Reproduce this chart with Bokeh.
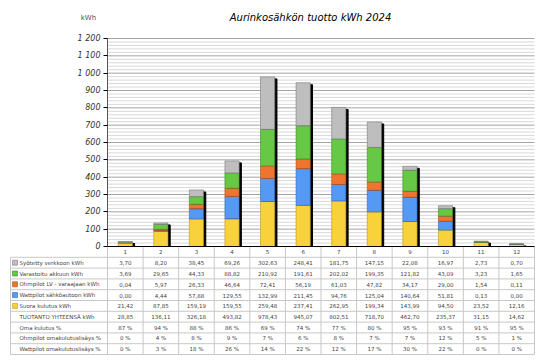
from bokeh.plotting import figure
from bokeh.models import ColumnDataSource, Range1d, FixedTicker, LinearAxis
from bokeh.core.properties import value
from bokeh.embed import file_html
from bokeh.resources import INLINE

months = list(range(1, 13))
month_labels = [str(m) for m in months]

syotetty = [3.70, 8.20, 38.45, 69.26, 302.63, 248.41, 181.75, 147.15, 22.08, 16.97, 2.73, 0.70]
varastoitu = [3.69, 29.65, 44.33, 88.82, 210.92, 191.61, 202.02, 199.35, 121.82, 43.09, 3.23, 1.65]
ohmpilot = [0.04, 5.97, 26.33, 46.64, 72.41, 56.19, 61.03, 47.82, 34.17, 29.00, 1.54, 0.11]
wattpilot = [0.00, 4.44, 57.88, 129.55, 132.99, 211.45, 94.76, 125.04, 140.64, 51.81, 0.13, 0.00]
suora = [21.42, 87.85, 159.19, 159.55, 259.48, 237.41, 262.95, 199.34, 143.99, 94.50, 23.52, 12.16]
tuotanto = [28.85, 136.11, 326.18, 493.82, 978.43, 945.07, 802.51, 718.70, 462.70, 235.37, 31.15, 14.62]
oma_kulutus = [87, 94, 88, 86, 69, 74, 77, 80, 95, 93, 91, 95]
ohmpilot_lisays = [0, 4, 8, 9, 7, 6, 8, 7, 7, 12, 5, 1]
wattpilot_lisays = [0, 3, 18, 26, 14, 22, 12, 17, 30, 22, 0, 0]

row_labels = ["Syötetty verkkoon kWh", "Varastoitu akkuun kWh", "Ohmpilot LV - varaajaan kWh",
              "Wattpilot sähköautoon kWh", "Suora kulutus kWh", "TUOTANTO YHTEENSÄ kWh",
              "Oma kulutus %", "Ohmpilot omakulutuslisäys %", "Wattpilot omakulutuslisäys %"]

y_ticks = [0, 100, 200, 300, 400, 500, 600, 700, 800, 900, 1000, 1100, 1200]
y_tick_labels = ["0", "100", "200", "300", "400", "500", "600", "700", "800", "900", "1 000", "1 100", "1 200"]
y_minor = [v for v in range(0, 1201, 20) if v % 100 != 0]

title_text = "Aurinkosähkön tuotto kWh 2024"
unit_text = "kWh"

C_GRAY, C_GREEN, C_ORANGE, C_BLUE, C_YELLOW = "#BEBEBE", "#66C844", "#EE7430", "#5599F5", "#F7D23C"
L_GRAY, L_GREEN, L_ORANGE, L_BLUE, L_YELLOW = "#7A7A7A", "#3E8A28", "#A8501E", "#2F63B0", "#B8951C"

FONT = "DejaVu Sans"

# ---- geometry: pixels -> data units ----
W, H = 542, 358
PX_X = 1 / 35.583            # x units per pixel
PX_Y = 1200 / 208.0          # y units per pixel
X0 = 0.5 - 107 * PX_X
X1 = 0.5 + (W - 107) * PX_X
Y1 = 1200 + 38 * PX_Y
Y0 = -(H - 246) * PX_Y
X_LEFT = 0.5 - 97 * PX_X     # left edge of the table
ROW_H = 10.8 * PX_Y
N_ROWS = len(row_labels)

p = figure(width=W, height=H, x_range=Range1d(X0, X1), y_range=Range1d(Y0, Y1),
           output_backend="svg", toolbar_location=None,
           x_axis_location=None, y_axis_location=None,
           min_border_left=0, min_border_right=0, min_border_top=0, min_border_bottom=0)
p.grid.grid_line_color = None
p.outline_line_color = None

# chart gridlines
p.segment(x0=[0.5] * len(y_minor), x1=[12.5] * len(y_minor), y0=y_minor, y1=y_minor,
          line_color="#D8D8D8", line_width=1)
p.segment(x0=[0.5] * len(y_ticks), x1=[12.5] * len(y_ticks), y0=y_ticks, y1=y_ticks,
          line_color="#A4A4A4", line_width=1)

yaxis = LinearAxis(fixed_location=0.5, bounds=(0, 1200),
                   ticker=FixedTicker(ticks=y_ticks, minor_ticks=[]))
yaxis.major_label_overrides = {t: l for t, l in zip(y_ticks, y_tick_labels)}
yaxis.major_label_text_font = FONT
yaxis.major_label_text_font_style = "italic"
yaxis.major_label_text_font_size = "8px"
yaxis.major_label_text_color = "#333333"
yaxis.axis_line_color = "#555555"
yaxis.major_tick_line_color = "#000000"
yaxis.major_tick_in = 0
yaxis.major_tick_out = 4
yaxis.minor_tick_out = 0
yaxis.minor_tick_in = 0
yaxis.major_label_standoff = 3
p.add_layout(yaxis, "left")

src = ColumnDataSource(dict(
    x=months, suora=suora, wattpilot=wattpilot, ohmpilot=ohmpilot,
    varastoitu=varastoitu, syotetty=syotetty,
    xs=[m + 2.2 * PX_X for m in months],
    shadow_top=[max(t - 2 * PX_Y, 0) for t in tuotanto],
))

p.vbar(x="xs", top="shadow_top", bottom=0, width=0.40, source=src,
       fill_color="#000000", line_color="#000000")
p.vbar_stack(["suora", "wattpilot", "ohmpilot", "varastoitu", "syotetty"], x="x", width=0.40,
             source=src,
             fill_color=[C_YELLOW, C_BLUE, C_ORANGE, C_GREEN, C_GRAY],
             line_color=[L_YELLOW, L_BLUE, L_ORANGE, L_GREEN, L_GRAY], line_width=0.6)

# title and unit
p.text(x=[0.5 + 203 * PX_X], y=[1200 + 21 * PX_Y], text=[title_text],
       text_font=value(FONT), text_font_style="italic", text_font_size="10px",
       text_color="#000000", text_align="center", text_baseline="middle")
p.text(x=[0.5 - 19 * PX_X], y=[1200 + 21 * PX_Y], text=[unit_text],
       text_font=value(FONT), text_font_size="7px", text_color="#555555",
       text_align="center", text_baseline="middle")

# ---------------- table ----------------
def row_y(k):
    return -k * ROW_H

hy = [row_y(k) for k in range(1, N_ROWS + 2)]
p.segment(x0=[X_LEFT] * len(hy), x1=[12.5] * len(hy), y0=hy, y1=hy,
          line_color="#C8C8C8", line_width=1)
vx = [m + 0.5 for m in [0] + months]
p.segment(x0=vx, x1=vx, y0=[row_y(N_ROWS + 1)] * len(vx), y1=[0] * len(vx),
          line_color="#C8C8C8", line_width=1)
p.segment(x0=[X_LEFT], x1=[X_LEFT], y0=[row_y(N_ROWS + 1)], y1=[row_y(1)],
          line_color="#C8C8C8", line_width=1)
p.segment(x0=[0.5], x1=[12.5], y0=[0], y1=[0], line_color="#000000", line_width=1.2)

small = dict(text_font=value(FONT), text_font_size="5.5px", text_color="#444444", text_baseline="middle")

p.text(x=months, y=[row_y(0.5)] * 12, text=month_labels, text_align="center", **small)

def fmt(v):
    return f"{v:.2f}".replace(".", ",")

kwh_rows = [syotetty, varastoitu, ohmpilot, wattpilot, suora, tuotanto]
pct_rows = [oma_kulutus, ohmpilot_lisays, wattpilot_lisays]
xs, ys, ts = [], [], []
for i, row in enumerate(kwh_rows):
    for m, v in zip(months, row):
        xs.append(m); ys.append(row_y(i + 1.5)); ts.append(fmt(v))
for j, row in enumerate(pct_rows):
    i = len(kwh_rows) + j
    for m, v in zip(months, row):
        xs.append(m); ys.append(row_y(i + 1.5)); ts.append(f"{v} %")
p.text(x=xs, y=ys, text=ts, text_align="center", **small)

p.text(x=[X_LEFT + 9 * PX_X] * N_ROWS, y=[row_y(i + 1.5) for i in range(N_ROWS)], text=row_labels,
       text_align="left", **small)
p.scatter(x=[X_LEFT + 4.5 * PX_X] * 5, y=[row_y(i + 1.5) for i in range(5)], marker="square", size=5,
          fill_color=[C_GRAY, C_GREEN, C_ORANGE, C_BLUE, C_YELLOW],
          line_color=[L_GRAY, L_GREEN, L_ORANGE, L_BLUE, L_YELLOW], line_width=0.6)

open("out.html", "w").write(file_html(p, INLINE))
